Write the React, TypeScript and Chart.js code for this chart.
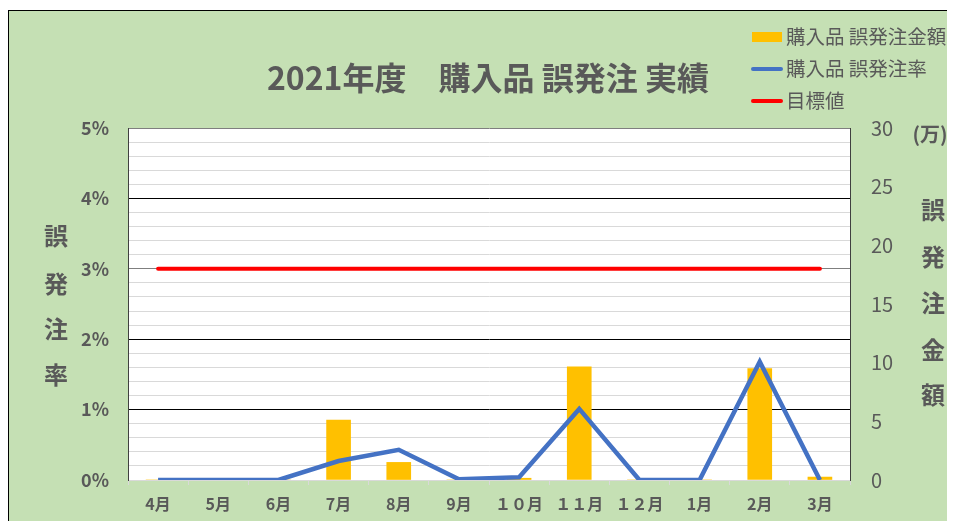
import React, { useEffect, useRef } from "react";
import { Chart, registerables } from "chart.js";

Chart.register(...registerables);

const months = ["4月", "5月", "6月", "7月", "8月", "9月", "１０月", "１１月", "１２月", "1月", "2月", "3月"];
const amountMan = [0, 0, 0, 5.1, 1.5, 0, 0.15, 9.65, 0, 0, 9.5, 0.25];
const ratePct = [0, 0, 0, 0.27, 0.43, 0.01, 0.04, 1.01, 0, 0, 1.68, 0];
const targetPct = [3, 3, 3, 3, 3, 3, 3, 3, 3, 3, 3, 3];
const leftTicks = [0, 1, 2, 3, 4, 5];
const rightTicks = [0, 5, 10, 15, 20, 25, 30];

const TITLE = "2021年度　購入品 誤発注 実績";
const LEGEND = ["購入品 誤発注金額", "購入品 誤発注率", "目標値"];
const LEFT_TITLE = ["誤", "発", "注", "率"];
const RIGHT_TITLE = ["誤", "発", "注", "金", "額"];
const UNIT = "(万)";

const FONT = "'Noto Sans CJK JP', 'Noto Sans', sans-serif";
const TXT = "#595959";

const isInt = (v: number) => Math.abs(v - Math.round(v)) < 1e-6;

const bgPlugin = {
  id: "bgPlugin",
  beforeDraw(chart: any) {
    const { ctx, chartArea: a } = chart;
    ctx.save();
    ctx.fillStyle = "#ffffff";
    ctx.fillRect(a.left, a.top, a.right - a.left, a.bottom - a.top);
    ctx.restore();
  },
};

const textPlugin = {
  id: "textPlugin",
  afterDraw(chart: any) {
    const ctx = chart.ctx;
    ctx.save();
    ctx.fillStyle = TXT;
    ctx.textBaseline = "middle";
    // Title
    ctx.font = `bold 32px ${FONT}`;
    ctx.textAlign = "center";
    ctx.fillText(TITLE, 479, 67);
    // Legend
    const lx = 743;
    const rows = [26, 58, 90];
    ctx.font = `19.5px ${FONT}`;
    ctx.textAlign = "left";
    LEGEND.forEach((t, i) => {
      const y = rows[i];
      if (i === 0) {
        ctx.fillStyle = "#FFC000";
        ctx.fillRect(lx, y - 5, 30, 10);
      } else {
        ctx.strokeStyle = i === 1 ? "#4472C4" : "#FF0000";
        ctx.lineWidth = 4;
        ctx.lineCap = "round";
        ctx.beginPath();
        ctx.moveTo(lx + 1, y);
        ctx.lineTo(lx + 29, y);
        ctx.stroke();
      }
      ctx.fillStyle = TXT;
      ctx.fillText(t, lx + 34, y);
    });
    // Left vertical title
    ctx.font = `bold 24px ${FONT}`;
    ctx.textAlign = "center";
    const lys = [225, 273, 318, 364];
    LEFT_TITLE.forEach((c, i) => ctx.fillText(c, 47, lys[i]));
    // Right vertical title
    const rys = [199, 246, 292, 339, 384];
    RIGHT_TITLE.forEach((c, i) => ctx.fillText(c, 924, rys[i]));
    ctx.font = `bold 20px ${FONT}`;
    ctx.fillText(UNIT, 921, 123);
    ctx.restore();
  },
};

export default function App() {
  const ref = useRef<HTMLCanvasElement | null>(null);
  useEffect(() => {
    if (!ref.current) return;
    const chart = new Chart(ref.current, {
      type: "bar",
      data: {
        labels: months,
        datasets: [
          {
            type: "line",
            label: LEGEND[1],
            data: ratePct,
            yAxisID: "y",
            borderColor: "#4472C4",
            backgroundColor: "#4472C4",
            borderWidth: 4.5,
            pointRadius: 0,
            tension: 0,
            order: 0,
          } as any,
          {
            type: "line",
            label: LEGEND[2],
            data: targetPct,
            yAxisID: "y",
            borderColor: "#FF0000",
            backgroundColor: "#FF0000",
            borderWidth: 4,
            pointRadius: 0,
            borderCapStyle: "round",
            order: 1,
          } as any,
          {
            type: "bar",
            label: LEGEND[0],
            data: amountMan,
            yAxisID: "y1",
            backgroundColor: "#FFC000",
            barThickness: 24,
            order: 2,
          } as any,
        ],
      },
      options: {
        responsive: false,
        animation: false,
        layout: { padding: { top: 117, left: 0, right: 0, bottom: 0 } },
        plugins: {
          legend: { display: false },
          title: { display: false },
          tooltip: { enabled: false },
        },
        scales: {
          x: {
            offset: true,
            afterFit: (s: any) => {
              s.height = 41;
            },
            grid: {
              offset: true,
              drawOnChartArea: false,
              drawTicks: true,
              tickLength: 5,
              color: "#d9d9d9",
            },
            border: { display: true, color: "#d9d9d9", width: 1 },
            ticks: {
              color: TXT,
              font: { family: FONT, size: 16, weight: "bold" },
              padding: 9,
              maxRotation: 0,
              autoSkip: false,
            },
          },
          y: {
            position: "left",
            min: 0,
            max: 5,
            afterFit: (s: any) => {
              s.width = 119;
            },
            afterBuildTicks: (s: any) => {
              const t: any[] = [];
              for (let i = 0; i <= 25; i++) t.push({ value: i / 5 });
              s.ticks = t;
            },
            grid: {
              drawTicks: false,
              lineWidth: 1,
              color: (c: any) => {
                const v = c.tick ? c.tick.value : 0;
                if (v < 1e-6) return "#d9d9d9";
                if (Math.abs(v - 3) < 1e-6 || Math.abs(v - 5) < 1e-6) return "#7f7f7f";
                if (isInt(v)) return "#000000";
                return "#d9d9d9";
              },
            },
            border: { display: true, color: "#404040", width: 1 },
            ticks: {
              color: TXT,
              font: { family: FONT, size: 18, weight: "bold" },
              padding: 19,
              autoSkip: false,
              callback: (v: any) => {
                const n = Number(v);
                return isInt(n) && leftTicks.includes(Math.round(n)) ? `${Math.round(n)}%` : "";
              },
            },
          },
          y1: {
            position: "right",
            min: 0,
            max: 30,
            afterFit: (s: any) => {
              s.width = 105;
            },
            afterBuildTicks: (s: any) => {
              s.ticks = rightTicks.map((v) => ({ value: v }));
            },
            grid: { drawOnChartArea: false, drawTicks: false },
            border: { display: true, color: "#404040", width: 1 },
            ticks: {
              color: TXT,
              font: { family: FONT, size: 20 },
              padding: 21,
            },
          },
        },
      } as any,
      plugins: [bgPlugin, textPlugin],
    });
    return () => chart.destroy();
  }, []);

  return (
    <div
      style={{
        marginTop: 2,
        width: 947,
        height: 511,
        background: "#C5E0B4",
        borderTop: "1.5px solid #000",
        borderLeft: "1.5px solid #000",
        boxSizing: "border-box",
        overflow: "hidden",
      }}
    >
      <canvas ref={ref} width={946} height={510} style={{ display: "block" }} />
    </div>
  );
}
